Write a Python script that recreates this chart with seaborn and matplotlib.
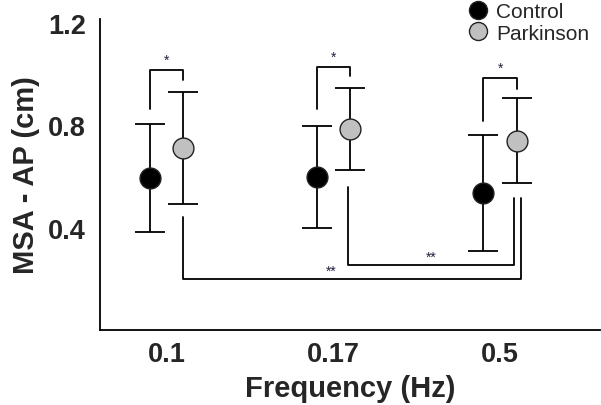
import numpy as np
import pandas as pd
import matplotlib
matplotlib.use("Agg")
import matplotlib.pyplot as plt
from matplotlib.lines import Line2D
import seaborn as sns

# data (mean +/- sd)
freqs = ["0.1", "0.17", "0.5"]
groups = ["Control", "Parkinson"]
control_mean = [0.594, 0.598, 0.535]
control_sd = [0.21, 0.20, 0.225]
parkinson_mean = [0.711, 0.785, 0.740]
parkinson_sd = [0.22, 0.16, 0.165]
colors = {"Control": "black", "Parkinson": "#c0c0c0"}

# significance brackets: (x_left, x_right, y_left, y_right, y_bar, label, label_x)
brackets = [
    (-0.1, 0.1, 0.863, 0.977, 1.016, "*", 0.0),
    (0.9, 1.1, 0.863, 0.992, 1.027, "*", 1.0),
    (1.9, 2.1, 0.816, 0.941, 0.984, "*", 2.0),
    (0.1, 2.126, 0.441, 0.516, 0.199, "**", 0.99),
    (1.09, 2.084, 0.559, 0.516, 0.254, "**", 1.59),
]

df = pd.DataFrame({
    "freq": freqs * 2,
    "group": ["Control"] * 3 + ["Parkinson"] * 3,
    "mean": control_mean + parkinson_mean,
    "sd": control_sd + parkinson_sd,
})

sns.set_style("white")
plt.rcParams["font.family"] = ["Liberation Sans", "DejaVu Sans"]

fig = plt.figure(figsize=(6.01, 4.06), dpi=100)
ax = fig.add_axes([0.1664, 0.1847, 0.832, 0.766])

offsets = {"Control": -0.1, "Parkinson": 0.1}
for g in groups:
    sub = df[df["group"] == g]
    xs = np.arange(len(freqs)) + offsets[g]
    ax.errorbar(xs, sub["mean"], yerr=sub["sd"], fmt="none", ecolor="black",
                elinewidth=1.3, capsize=11, capthick=1.3, zorder=2)

sns.pointplot(data=df, x="freq", y="mean", hue="group", order=freqs,
              hue_order=groups, dodge=0.2, linestyle="none", errorbar=None,
              palette=colors, markers="o", markersize=15,
              markeredgecolor="#222222", markeredgewidth=1.0, ax=ax,
              zorder=3, legend=False)

for xl, xr, yl, yr, yb, lab, lx in brackets:
    ax.plot([xl, xl, xr, xr], [yl, yb, yb, yr], color="black", lw=1.3, zorder=1)
    dy = 0.012 if yb > max(yl, yr) else 0.004
    ax.text(lx, yb + dy, lab, ha="center", va="bottom",
            fontsize=10, color="#202040")

ax.set_xlim(-0.40, 2.6)
ax.set_ylim(0, 1.215)
ax.set_yticks([0.4, 0.8, 1.2])
ax.set_yticklabels(["0.4", "0.8", "1.2"])
ax.tick_params(axis="x", length=0, labelsize=19.5, pad=8)
ax.tick_params(axis="y", length=0, labelsize=19.5, pad=10)
for lab in ax.get_xticklabels() + ax.get_yticklabels():
    lab.set_fontweight("bold")
ax.set_xlabel("Frequency (Hz)", fontsize=21, fontweight="bold", labelpad=5)
ax.set_ylabel("MSA - AP (cm)", fontsize=21, fontweight="bold", labelpad=6)

for side in ["top", "right"]:
    ax.spines[side].set_visible(False)
for side in ["left", "bottom"]:
    ax.spines[side].set_color("black")
    ax.spines[side].set_linewidth(1.3)

handles = [Line2D([], [], ls="none", marker="o", markersize=13,
                  markerfacecolor=colors[g], markeredgecolor="#222222")
           for g in groups]
ax.legend(handles, groups, loc="upper right", bbox_to_anchor=(0.995, 1.08),
          frameon=False, fontsize=15, handlelength=0.8, handletextpad=0.45,
          labelspacing=0.1, borderaxespad=0)

fig.savefig("out.png", dpi=100)
